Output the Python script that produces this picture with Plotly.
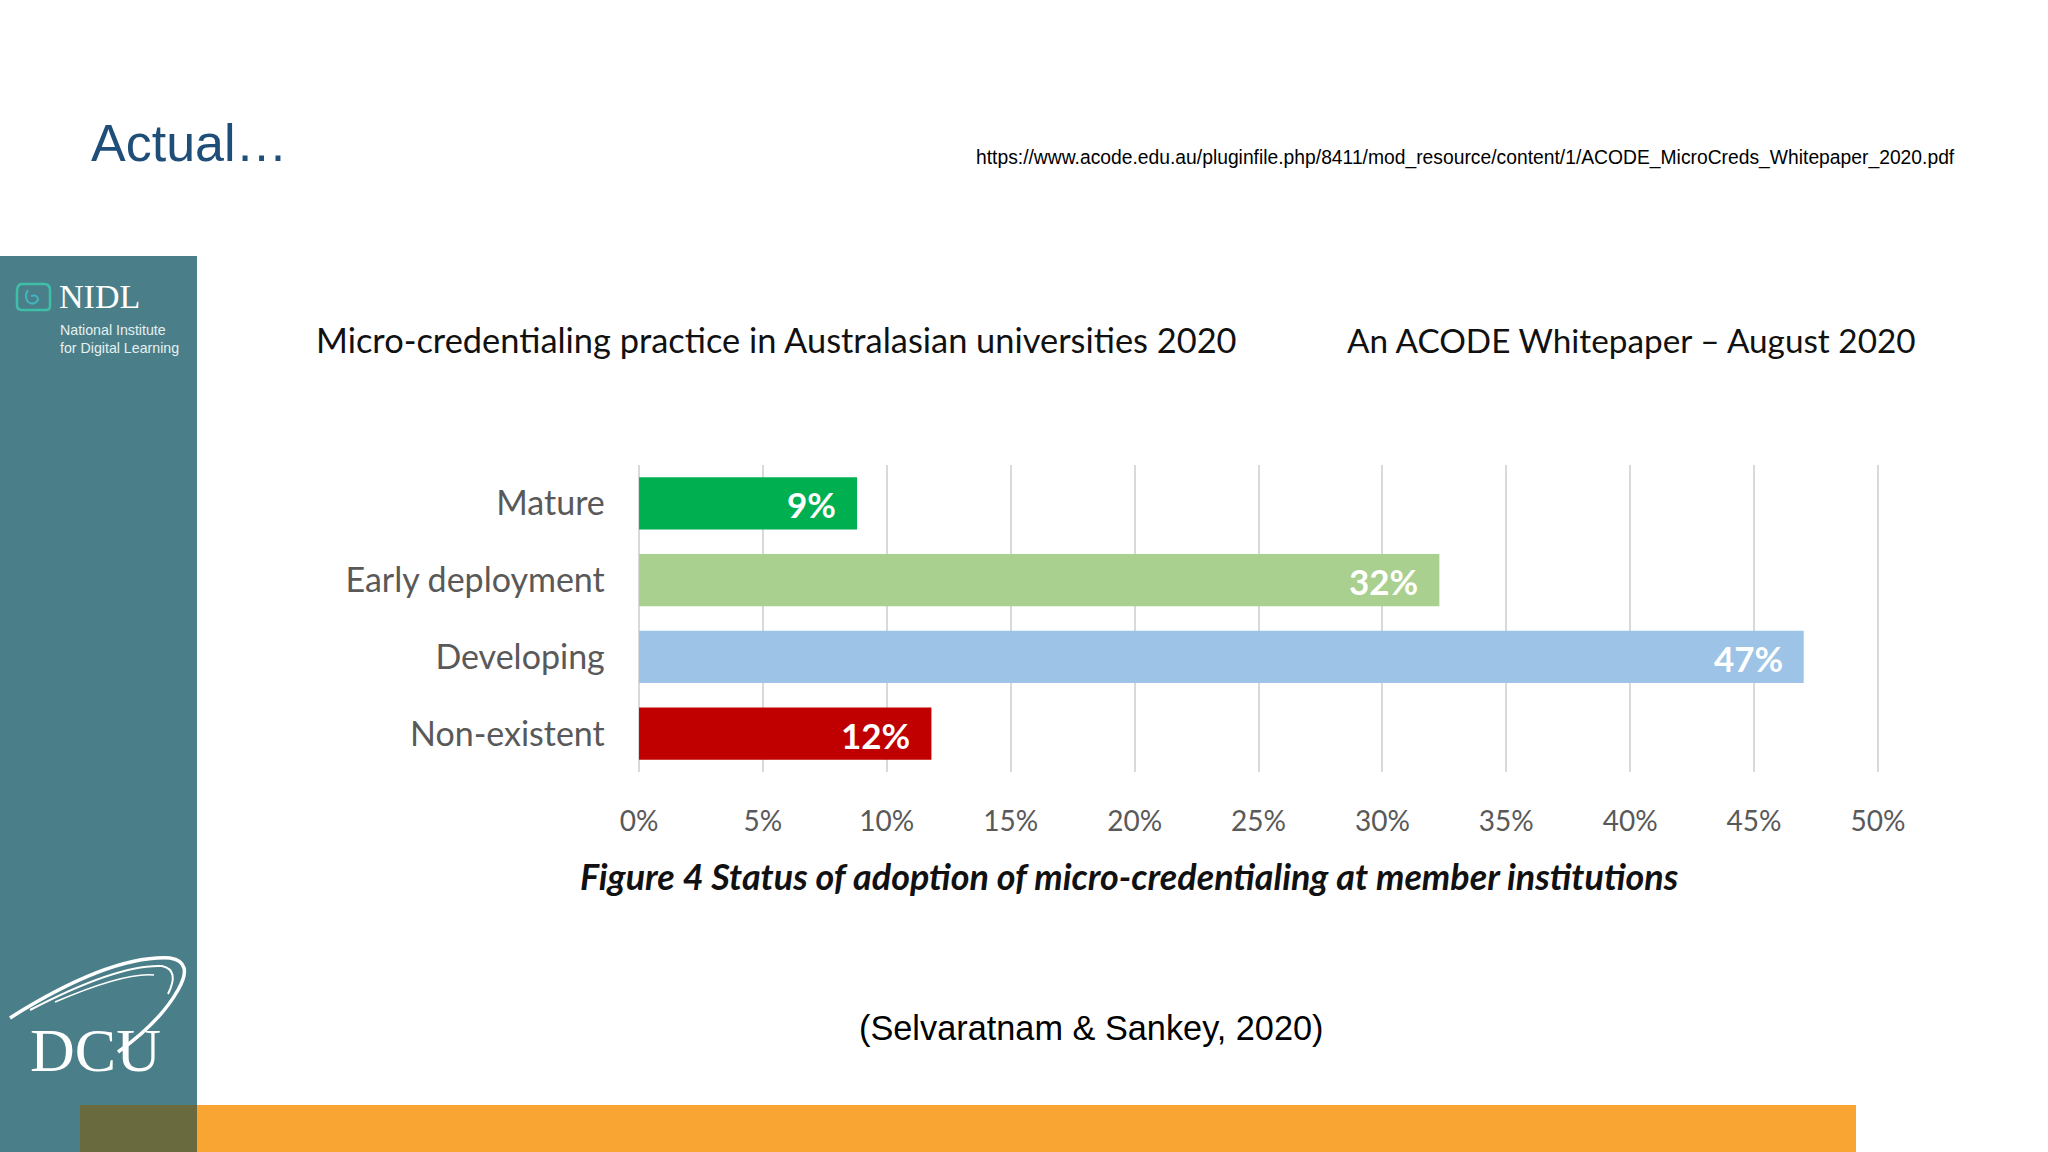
import plotly.graph_objects as go

# ---- data ----
categories = ["Mature", "Early deployment", "Developing", "Non-existent"]
values = [8.8, 32.3, 47.0, 11.8]
value_labels = ["9%", "32%", "47%", "12%"]
bar_colors = ["#00B050", "#A9D08E", "#9DC3E6", "#C00000"]
tick_vals = [0, 5, 10, 15, 20, 25, 30, 35, 40, 45, 50]
tick_text = ["0%", "5%", "10%", "15%", "20%", "25%", "30%", "35%", "40%", "45%", "50%"]

W, H = 2048, 1152
def px(x):
    return x / W
def py(y):
    return 1 - y / H

CAL = "Lato, 'Open Sans', sans-serif"
ARIAL = "'Liberation Sans', Arial, sans-serif"
SERIF = "'Liberation Serif', 'DejaVu Serif', serif"

fig = go.Figure()
fig.add_trace(go.Bar(
    y=categories, x=values, orientation="h",
    marker=dict(color=bar_colors, line=dict(width=0)),
    hoverinfo="skip", showlegend=False,
))

# data labels inside bar ends
annotations = []
for c, v, t in zip(categories, values, value_labels):
    annotations.append(dict(
        x=v, y=c, xref="x", yref="y", text="<b>" + t + "</b>",
        xanchor="right", yanchor="middle", xshift=-19, yshift=-1, showarrow=False,
        font=dict(family=CAL, size=35, color="white"),
    ))

def txt(x, y, s, size, color="black", family=CAL, xanchor="left", yanchor="middle"):
    annotations.append(dict(
        x=px(x), y=py(y), xref="paper", yref="paper", text=s,
        xanchor=xanchor, yanchor=yanchor, showarrow=False,
        font=dict(family=family, size=size, color=color),
    ))

txt(89, 143, "Actual…", 52, color="#1F4E79", family=ARIAL)
txt(974, 158, "https://www.acode.edu.au/pluginfile.php/8411/mod_resource/content/1/ACODE_MicroCreds_Whitepaper_2020.pdf",
    19.3, color="black", family=ARIAL)
txt(314, 340, "Micro-credentialing practice in Australasian universities 2020", 34.4, color="#111111")
txt(1345, 340, "An ACODE Whitepaper – August 2020", 33.3, color="#111111")
txt(1129, 876, "<b><i>Figure 4 Status of adoption of micro-credentialing at member institutions</i></b>", 35.9,
    color="#111111", xanchor="center")
txt(1091, 1028, "(Selvaratnam &amp; Sankey, 2020)", 34.3, color="black", family=ARIAL, xanchor="center")

# NIDL logo texts
txt(57, 296, "NIDL", 34, color="white", family=SERIF)
txt(58, 330, "National Institute", 14.2, color="#E6EFF0", family=ARIAL)
txt(58, 348, "for Digital Learning", 14.2, color="#E6EFF0", family=ARIAL)
# DCU
txt(95, 1050, "DCU", 62, color="white", family=SERIF, xanchor="center")

shapes = [
    # teal side panel
    dict(type="rect", xref="paper", yref="paper", x0=px(0), x1=px(197), y0=py(1152), y1=py(256),
         fillcolor="#4A7F89", line=dict(width=0), layer="below"),
    # bottom olive + orange
    dict(type="rect", xref="paper", yref="paper", x0=px(80), x1=px(197), y0=py(1152), y1=py(1105),
         fillcolor="#696A3E", line=dict(width=0), layer="above"),
    dict(type="rect", xref="paper", yref="paper", x0=px(197), x1=px(1856), y0=py(1152), y1=py(1105),
         fillcolor="#F9A533", line=dict(width=0), layer="above"),
]

def path_shape(d, color, width):
    shapes.append(dict(type="path", xref="paper", yref="paper", path=d,
                       line=dict(color=color, width=width), fillcolor="rgba(0,0,0,0)", layer="above"))

def P(x, y):
    return f"{px(x):.5f},{py(y):.5f}"

# NIDL icon (rounded square + inner curl)
path_shape(f"M {P(22,284)} L {P(44,284)} Q {P(50,284)} {P(50,290)} L {P(50,306)} Q {P(50,310)} {P(46,310)} "
           f"L {P(22,310)} Q {P(17,310)} {P(17,305)} L {P(17,292)} Q {P(17,284)} {P(22,284)}", "#3FBFA8", 2.5)
path_shape(f"M {P(28,290)} Q {P(24,296)} {P(28,302)} Q {P(34,306)} {P(38,300)} Q {P(38,294)} {P(31,296)}",
           "#3FB6C0", 2)

# DCU swooshes
path_shape(f"M {P(10,1018)} Q {P(110,955)} {P(170,958)} Q {P(194,962)} {P(178,990)} Q {P(160,1022)} {P(118,1052)}",
           "white", 3.5)
path_shape(f"M {P(30,1010)} Q {P(118,964)} {P(162,966)} Q {P(180,970)} {P(168,994)}", "white", 2)
path_shape(f"M {P(55,1002)} Q {P(125,972)} {P(154,975)}", "white", 1.5)

fig.update_layout(
    width=W, height=H,
    margin=dict(l=0, r=0, t=0, b=0, autoexpand=False),
    paper_bgcolor="white", plot_bgcolor="white",
    bargap=0.32,
    xaxis=dict(
        domain=[px(637.8), px(1879.2)], range=[-0.05, 50.05],
        tickvals=tick_vals, ticktext=tick_text,
        showgrid=True, gridcolor="#D9D9D9", gridwidth=2,
        zeroline=False, showline=False, ticks="", automargin=False,
        tickfont=dict(family=CAL, size=28, color="#595959"),
        ticklabelstandoff=30, fixedrange=True,
    ),
    yaxis=dict(
        domain=[py(772), py(465)],
        categoryorder="array", categoryarray=categories, autorange="reversed",
        showgrid=False, zeroline=False, showline=False, ticks="", automargin=False,
        tickfont=dict(family=CAL, size=34, color="#595959"),
        ticklabelstandoff=32, fixedrange=True,
    ),
    annotations=annotations,
    shapes=shapes,
)

fig.write_html("out.html", config={"displayModeBar": False},
               post_script="document.body.style.margin='0';document.body.style.overflow='hidden';")
